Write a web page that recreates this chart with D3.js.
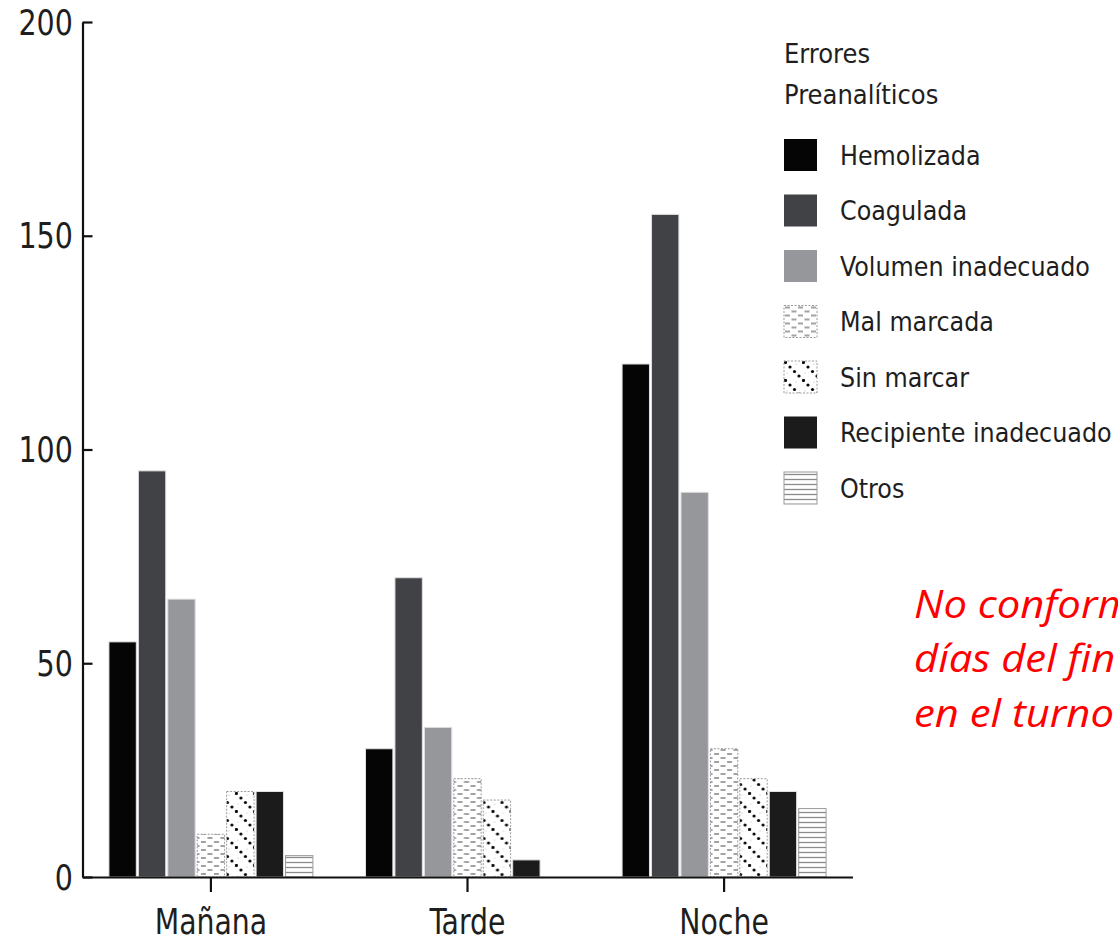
<!DOCTYPE html>
<html>
<head>
<meta charset="utf-8">
<script src="https://cdn.jsdelivr.net/npm/d3@7"></script>
<style>
  html, body { margin: 0; padding: 0; background: #fff; overflow: hidden; }
  svg { display: block; }
</style>
</head>
<body>
<svg id="chart" width="1118" height="943"></svg>
<script>
// ---- data ----
const categories = ["Mañana", "Tarde", "Noche"];
const seriesNames = ["Hemolizada", "Coagulada", "Volumen inadecuado", "Mal marcada", "Sin marcar", "Recipiente inadecuado", "Otros"];
const hemolizada = [55, 30, 120];
const coagulada = [95, 70, 155];
const volumenInadecuado = [65, 35, 90];
const malMarcada = [10, 23, 30];
const sinMarcar = [20, 18, 23];
const recipienteInadecuado = [20, 4, 20];
const otros = [5, 0, 16];
const yTicks = [0, 50, 100, 150, 200];
const legendTitle = ["Errores", "Preanalíticos"];
const noteLines = ["No conformidades", "días del fin de", "en el turno noche"];

const seriesValues = [hemolizada, coagulada, volumenInadecuado, malMarcada, sinMarcar, recipienteInadecuado, otros];
const table = categories.map((c, i) => ({
  category: c,
  values: seriesNames.map((s, j) => ({ series: s, value: seriesValues[j][i] }))
}));

// ---- setup ----
const svg = d3.select("#chart");
const font = "'DejaVu Sans Condensed', 'Liberation Sans Narrow', sans-serif";
const textColor = "#1e1e1e";

const defs = svg.append("defs");
// Mal marcada: short dashes
const pMal = defs.append("pattern").attr("id", "pMal").attr("patternUnits", "userSpaceOnUse")
  .attr("width", 13).attr("height", 8);
pMal.append("rect").attr("width", 13).attr("height", 8).attr("fill", "#fff");
pMal.append("line").attr("x1", 1).attr("y1", 2).attr("x2", 6).attr("y2", 2).attr("stroke", "#7a7a7a").attr("stroke-width", 1.4);
pMal.append("line").attr("x1", 7.5).attr("y1", 6).attr("x2", 12.5).attr("y2", 6).attr("stroke", "#7a7a7a").attr("stroke-width", 1.4);
// Sin marcar: diagonal dotted lines
const pSin = defs.append("pattern").attr("id", "pSin").attr("patternUnits", "userSpaceOnUse")
  .attr("width", 18).attr("height", 18);
pSin.append("rect").attr("width", 18).attr("height", 18).attr("fill", "#fff");
[1.5, 6, 10.5, 15].forEach(t => {
  pSin.append("circle").attr("cx", t).attr("cy", t).attr("r", 1.6).attr("fill", "#0a0a0a");
});
[3, 12].forEach(t => {
  pSin.append("circle").attr("cx", t).attr("cy", (t + 9) % 18).attr("r", 0.6).attr("fill", "#bbb");
});
// Otros: horizontal lines
const pOtros = defs.append("pattern").attr("id", "pOtros").attr("patternUnits", "userSpaceOnUse")
  .attr("width", 10).attr("height", 5);
pOtros.append("rect").attr("width", 10).attr("height", 5).attr("fill", "#fff");
pOtros.append("line").attr("x1", 0).attr("y1", 2.5).attr("x2", 10).attr("y2", 2.5).attr("stroke", "#8c8c8c").attr("stroke-width", 1.3);

const fills = {
  "Hemolizada": "#050505",
  "Coagulada": "#404246",
  "Volumen inadecuado": "#96979b",
  "Mal marcada": "url(#pMal)",
  "Sin marcar": "url(#pSin)",
  "Recipiente inadecuado": "#1b1b1b",
  "Otros": "url(#pOtros)"
};
const patterned = { "Mal marcada": true, "Sin marcar": true, "Otros": true };
const dashed = { "Mal marcada": "2,1.5", "Sin marcar": "2,1.5" };

// ---- scales ----
const y = d3.scaleLinear().domain([0, 200]).range([877, 22]);
const x0 = d3.scaleBand().domain(categories).range([82.5, 852.5]).paddingInner(0.205).paddingOuter(0.103);
const x1 = d3.scaleBand().domain(seriesNames).range([0, x0.bandwidth()]).paddingInner(0.07);

// ---- bars ----
const groups = svg.append("g").selectAll("g").data(table).join("g")
  .attr("transform", d => `translate(${x0(d.category)},0)`);
groups.selectAll("rect").data(d => d.values.filter(v => v.value > 0)).join("rect")
  .attr("x", d => x1(d.series))
  .attr("y", d => y(d.value))
  .attr("width", x1.bandwidth())
  .attr("height", d => y(0) - y(d.value))
  .attr("fill", d => fills[d.series])
  .attr("stroke", d => patterned[d.series] ? "#9a9a9a" : "#e0e0e0")
  .attr("stroke-width", 1)
  .attr("stroke-dasharray", d => dashed[d.series] || null);

// ---- axes ----
const yAxis = d3.axisLeft(y).tickValues(yTicks).tickSizeInner(-10).tickSizeOuter(0).tickPadding(10);
const gy = svg.append("g").attr("transform", "translate(82.5,0)").call(yAxis);
gy.select(".domain").attr("stroke", "#111").attr("stroke-width", 2.2);
gy.selectAll(".tick line").attr("stroke", "#111").attr("stroke-width", 2.2);
gy.selectAll(".tick text").attr("font-family", font).attr("font-size", 36).attr("fill", textColor)
  .attr("dy", "0.34em").attr("x", -11).attr("transform", "scale(0.88,1)");

const xAxis = d3.axisBottom(x0).tickSizeInner(15).tickSizeOuter(0).tickPadding(17);
const gx = svg.append("g").attr("transform", `translate(0,${y(0)})`).call(xAxis);
gx.select(".domain").attr("stroke", "#111").attr("stroke-width", 2.2);
gx.selectAll(".tick line").attr("stroke", "#111").attr("stroke-width", 2.2);
gx.selectAll(".tick text").attr("font-family", font).attr("font-size", 35).attr("fill", textColor)
  .attr("transform", "scale(0.9,1)");

// ---- legend ----
const legend = svg.append("g").attr("transform", "translate(784,0)");
legend.selectAll("text.title").data(legendTitle).join("text").attr("class", "title")
  .attr("x", 0).attr("y", (d, i) => 63 + i * 41)
  .attr("font-family", font).attr("font-size", 27).attr("fill", textColor)
  .text(d => d);
const items = legend.selectAll("g.item").data(seriesNames).join("g").attr("class", "item")
  .attr("transform", (d, i) => `translate(0,${139 + i * 55.5})`);
items.append("rect").attr("width", 33).attr("height", 32)
  .attr("fill", d => fills[d]).attr("stroke", d => patterned[d] ? "#9a9a9a" : "none")
  .attr("stroke-dasharray", d => dashed[d] || null);
items.append("text").attr("x", 56).attr("y", 16).attr("dy", "0.36em")
  .attr("font-family", font).attr("font-size", 26.5).attr("fill", textColor)
  .text(d => d);

// ---- red note ----
svg.append("g").attr("transform", "translate(914,0) scale(1.1,1)")
  .selectAll("text").data(noteLines).join("text")
  .attr("x", 0).attr("y", (d, i) => 618 + i * 54.5)
  .attr("font-family", "'Open Sans', 'Noto Sans', sans-serif").attr("font-style", "italic")
  .attr("font-size", 38).attr("fill", "#ff0000")
  .text(d => d);
</script>
</body>
</html>
